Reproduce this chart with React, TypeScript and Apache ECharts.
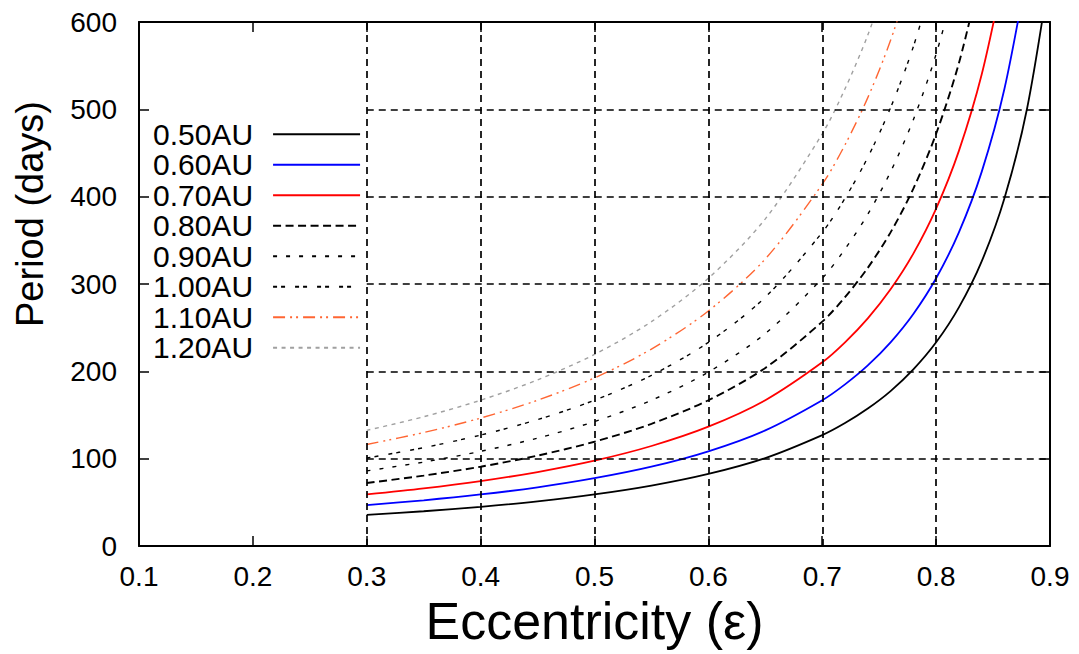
import React, { useEffect, useRef } from 'react';
import * as echarts from 'echarts';

// Eccentricity samples (x) shared by all curves
const eccentricity = [0.30, 0.35, 0.40, 0.45, 0.50, 0.55, 0.60, 0.65, 0.70, 0.72, 0.74, 0.76, 0.78, 0.80, 0.82, 0.84, 0.86, 0.88, 0.90];

// Period (days) read for each perihelion distance
const p050 = [35.6, 39.8, 44.9, 51.1, 59.0, 69.1, 82.5, 100.7, 127.0, 140.8, 157.4, 177.4, 202.2, 233.2, 273.2, 325.9, 398.2, 501.8, 659.7];
const p060 = [46.8, 52.3, 59.0, 67.2, 77.6, 90.8, 108.4, 132.4, 166.9, 185.1, 206.8, 233.2, 265.7, 306.6, 359.1, 428.4, 523.5, 659.6];
const p070 = [59.0, 65.9, 74.3, 84.7, 97.7, 114.5, 136.6, 166.9, 210.3, 233.2, 260.6, 293.9, 334.8, 386.3, 452.4, 539.8, 659.6];
const p080 = [72.1, 80.6, 90.8, 103.5, 119.4, 139.9, 166.9, 203.9, 256.9, 285.0, 318.5, 359.1, 409.2, 472.0, 552.9, 659.7];
const p090 = [86.0, 96.1, 108.4, 123.5, 142.5, 166.9, 199.1, 243.3, 306.5, 340.0, 379.9, 428.4, 488.1, 563.2, 659.6];
const p100 = [100.7, 112.6, 127.0, 144.7, 166.9, 195.5, 233.2, 284.9, 359.1, 398.2, 445.0, 501.8, 571.8, 659.6];
const p110 = [116.2, 129.9, 146.5, 166.9, 192.5, 225.5, 269.1, 328.7, 414.3, 459.4, 513.4, 579.0, 659.7];
const p120 = [132.4, 148.0, 166.9, 190.2, 219.4, 256.9, 306.6, 374.6, 472.0, 523.5, 585.0, 659.7];

const seriesNames = ['0.50AU', '0.60AU', '0.70AU', '0.80AU', '0.90AU', '1.00AU', '1.10AU', '1.20AU'];
const periods = [p050, p060, p070, p080, p090, p100, p110, p120];

// Grid line positions
const gridEcc = [0.3, 0.4, 0.5, 0.6, 0.7, 0.8];
const gridPeriod = [100, 200, 300, 400, 500];

const colors = ['#000000', '#0000ff', '#ff0000', '#000000', '#000000', '#000000', '#ff6633', '#a0a0a0'];
const dashes: any[] = ['solid', 'solid', 'solid', [8, 4.5], [4, 9], [4, 4, 4, 10], [12, 5, 2, 4, 2, 5], [4, 4.5]];
const widths = [1.8, 1.8, 1.8, 1.9, 1.4, 1.4, 1.4, 1.4];

const FONT = 'Liberation Sans';

export default function App() {
  const ref = useRef<HTMLDivElement>(null);

  useEffect(() => {
    if (!ref.current) return;
    const chart = echarts.init(ref.current, undefined, { renderer: 'svg' });

    const curveSeries = seriesNames.map((name, i) => ({
      name,
      type: 'line',
      xAxisIndex: 0,
      yAxisIndex: 0,
      showSymbol: false,
      symbol: 'none',
      smooth: 0.3,
      clip: true,
      data: periods[i].map((p, j) => [eccentricity[j], p]),
      lineStyle: { color: colors[i], width: widths[i], type: dashes[i] },
      itemStyle: { color: colors[i] },
      z: 3,
    }));

    const gridLines: any[] = [
      ...gridEcc.map((x) => [{ coord: [x, 0] }, { coord: [x, 600] }]),
      ...gridPeriod.map((y) => [{ coord: [0.3, y] }, { coord: [0.9, y] }]),
    ];

    const tickStyle = { show: true, inside: true, length: 10, lineStyle: { color: '#000', width: 1.5 } };
    const lineStyle = { show: true, onZero: false, lineStyle: { color: '#000', width: 2 } };

    chart.setOption({
      animation: false,
      backgroundColor: '#ffffff',
      grid: { left: 139, right: 29, top: 22, bottom: 108, containLabel: false },
      legend: {
        data: seriesNames,
        orient: 'vertical',
        left: 153,
        top: 119,
        padding: 0,
        itemGap: 0,
        itemWidth: 87,
        itemHeight: 1,
        align: 'right',
        selectedMode: false,
        itemStyle: { opacity: 0 },
        textStyle: {
          fontFamily: FONT,
          fontSize: 30,
          lineHeight: 30.5,
          color: '#000',
          padding: [0, 15, 0, 0],
        },
      },
      xAxis: [
        {
          type: 'value',
          position: 'bottom',
          min: 0.1,
          max: 0.9,
          interval: 0.1,
          axisLine: lineStyle,
          axisTick: tickStyle,
          splitLine: { show: false },
          axisLabel: {
            color: '#000',
            fontFamily: FONT,
            fontSize: 28,
            margin: 16,
            formatter: (v: number) => v.toFixed(1),
          },
          name: 'Eccentricity (ε)',
          nameLocation: 'middle',
          nameGap: 48,
          nameTextStyle: { fontFamily: FONT, fontSize: 52, color: '#000' },
        },
        {
          type: 'value',
          position: 'top',
          min: 0.1,
          max: 0.9,
          interval: 0.1,
          axisLine: lineStyle,
          axisTick: tickStyle,
          splitLine: { show: false },
          axisLabel: { show: false },
        },
      ],
      yAxis: [
        {
          type: 'value',
          position: 'left',
          min: 0,
          max: 600,
          interval: 100,
          axisLine: lineStyle,
          axisTick: tickStyle,
          splitLine: { show: false },
          axisLabel: { color: '#000', fontFamily: FONT, fontSize: 28, margin: 22 },
        },
        {
          type: 'value',
          position: 'right',
          min: 0,
          max: 600,
          interval: 100,
          axisLine: lineStyle,
          axisTick: tickStyle,
          splitLine: { show: false },
          axisLabel: { show: false },
        },
      ],
      graphic: [
        {
          type: 'text',
          x: 30,
          y: 214,
          rotation: Math.PI / 2,
          style: {
            text: 'Period (days)',
            font: `38px "${FONT}"`,
            fill: '#000',
            textAlign: 'center',
            textVerticalAlign: 'middle',
          },
        },
      ],
      series: [
        {
          name: 'grid',
          type: 'line',
          data: [],
          xAxisIndex: 0,
          yAxisIndex: 0,
          silent: true,
          z: 1,
          markLine: {
            silent: true,
            symbol: ['none', 'none'],
            label: { show: false },
            lineStyle: { color: '#000', width: 1.7, type: [7, 5] },
            data: gridLines,
          },
        },
        ...curveSeries,
      ],
    });

    return () => chart.dispose();
  }, []);

  return (
    <div
      ref={ref}
      style={{ position: 'fixed', left: 0, top: 0, width: 1079, height: 654, background: '#fff' }}
    />
  );
}
